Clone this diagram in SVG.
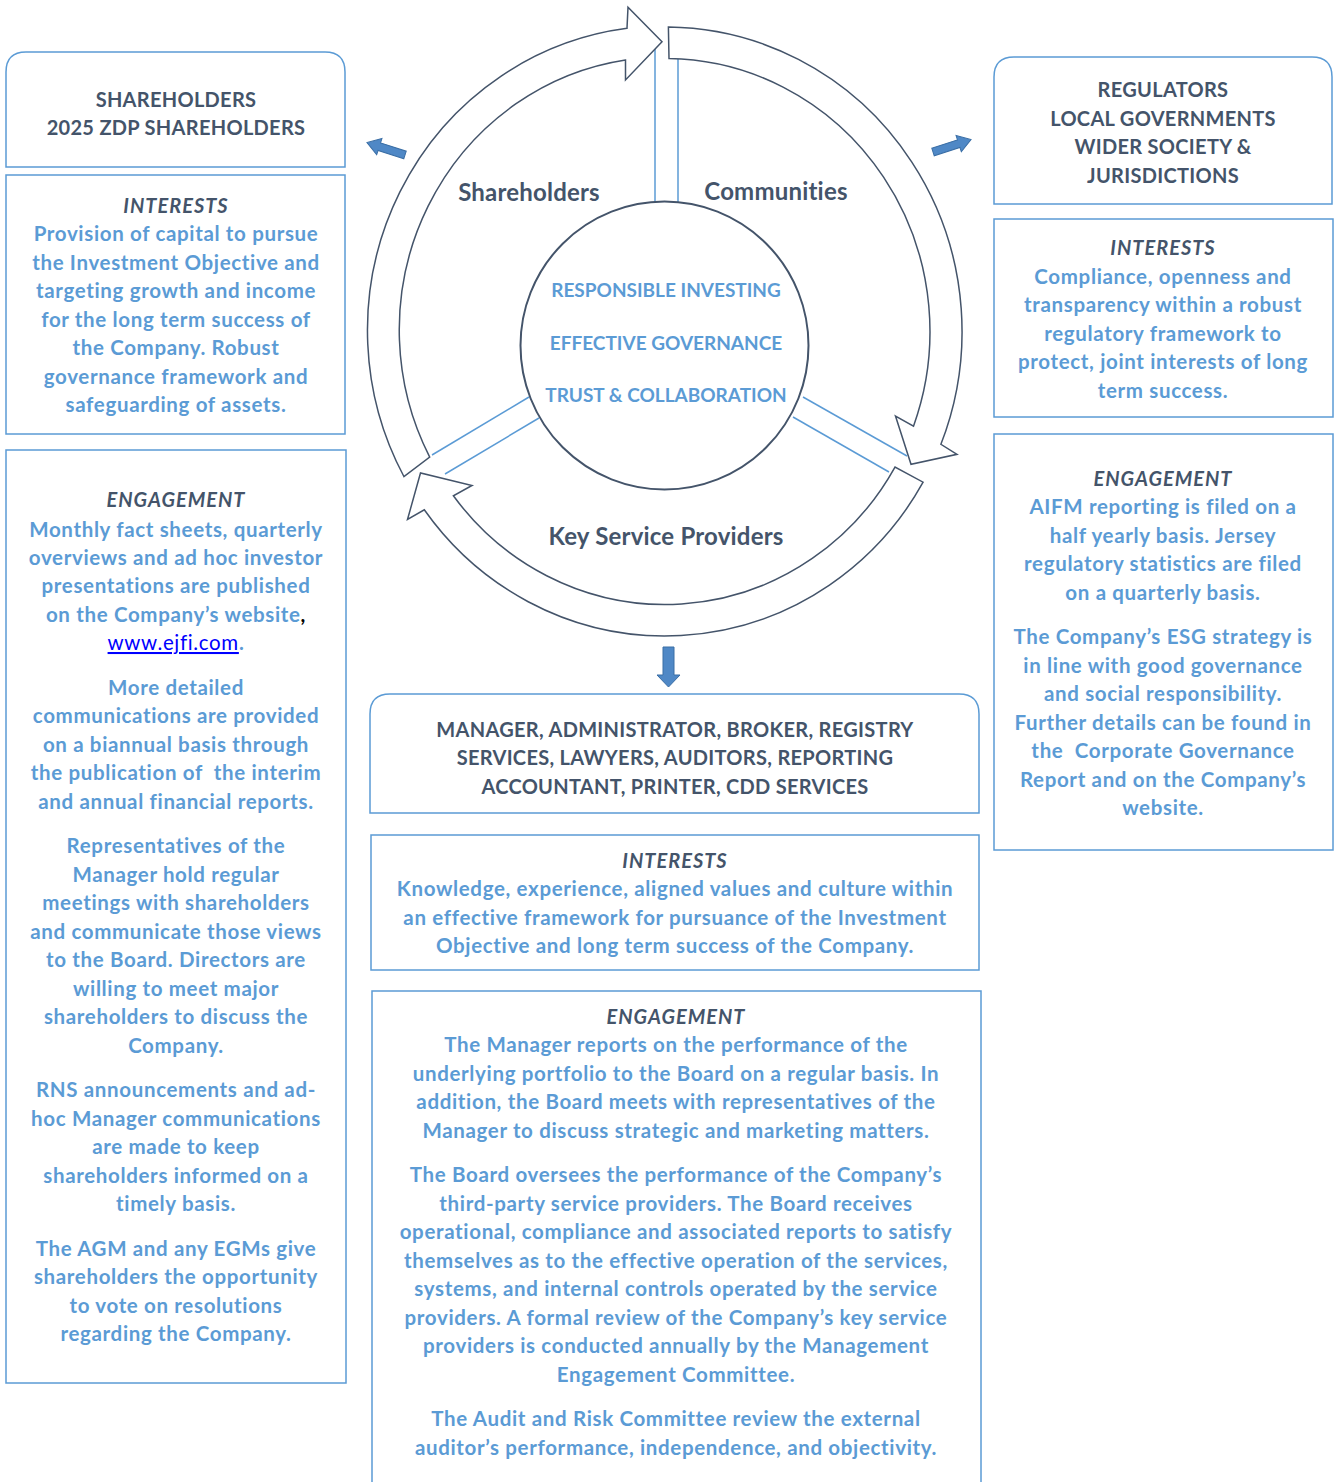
<svg xmlns="http://www.w3.org/2000/svg" width="1343" height="1482" viewBox="0 0 1343 1482">
<style>
text{font-family:Lato,"Liberation Sans",sans-serif;font-weight:700;text-anchor:middle;font-size:20px}
.h{fill:#44546A;letter-spacing:0.3px}
.b{fill:#5B9BD5;font-size:20.5px;letter-spacing:0.65px}
.i{font-style:italic;letter-spacing:1px}
.lbl{fill:#44546A;font-size:24px;letter-spacing:0.2px}
.ctr{fill:#5B9BD5;font-size:19px}
.box{fill:#fff;stroke:#5B9BD5;stroke-width:1.5}
.arc{fill:#fff;stroke:#44546A;stroke-width:1.5;stroke-linejoin:miter}
.spoke{stroke:#5B9BD5;stroke-width:1.5;fill:none}
.sa{fill:#4F88C6;stroke:#3A6EA5;stroke-width:1}
</style>
<defs>
<path id="sarrow" d="M0,-4 L27,-4 L27,-8.5 L40,0 L27,8.5 L27,4 L0,4 Z"/>
</defs>
<rect width="1343" height="1482" fill="#fff"/>

<g id="connectors">
<line class="spoke" x1="655" y1="42" x2="655" y2="206"/>
<line class="spoke" x1="678" y1="58" x2="678" y2="206"/>
<line class="spoke" x1="529" y1="397" x2="432" y2="455"/>
<line class="spoke" x1="539" y1="418" x2="445" y2="474"/>
<line class="spoke" x1="803" y1="397" x2="907" y2="456"/>
<line class="spoke" x1="793" y1="417" x2="889" y2="472"/>
<use href="#sarrow" class="sa" transform="translate(405,155) rotate(198)"/>
<use href="#sarrow" class="sa" transform="translate(933,152) rotate(-18)"/>
<path class="sa" d="M663,647 H674 V675 H680 L668.5,687 L657,675 H663 Z"/>
</g>

<g id="arrow-shareholders">
<path class="arc" d="M403.9,476.5 A297,304.5 0 0 1 627,28.3 L628,7.3 L662,41.7 L625.5,80 L625.5,60 A265,273 0 0 0 429.7,457.1 Z"/>
</g>
<g id="arrow-communities">
<path class="arc" d="M668.4,27 A297,304.5 0 0 1 940.9,444.3 L957,454.3 L911,464.3 L895.5,416 L913.5,426.2 A265,273 0 0 0 669,58.5 Z"/>
</g>
<g id="arrow-ksp">
<path class="arc" d="M923.1,482.2 A297,304.5 0 0 1 424.3,509.8 L407.5,519.5 L420.5,473 L472,485.5 L453.4,495.8 A265,273 0 0 0 895,467.1 Z"/>
</g>

<g id="core">
<circle cx="664.5" cy="345.5" r="144" fill="#fff" stroke="#44546A" stroke-width="2"/>
<text class="ctr" x="666" y="297">RESPONSIBLE INVESTING</text>
<text class="ctr" x="666" y="350">EFFECTIVE GOVERNANCE</text>
<text class="ctr" x="666" y="402">TRUST &amp; COLLABORATION</text>
</g>
<g id="label-shareholders"><text class="lbl" x="529" y="201">Shareholders</text></g>
<g id="label-communities"><text class="lbl" x="776" y="200">Communities</text></g>
<g id="label-ksp"><text class="lbl" x="666" y="545">Key Service Providers</text></g>

<g id="shareholders-header">
<path class="box" d="M6,167 V72 Q6,52 26,52 H325 Q345,52 345,72 V167 Z"/>
<text class="h" x="176" y="107">SHAREHOLDERS</text>
<text class="h" x="176" y="135">2025 ZDP SHAREHOLDERS</text>
</g>
<g id="shareholders-interests">
<rect class="box" x="6" y="175" width="339" height="259"/>
<text class="h i" x="176" y="213">INTERESTS</text>
<text class="b" x="176" y="241">Provision of capital to pursue</text>
<text class="b" x="176" y="270">the Investment Objective and</text>
<text class="b" x="176" y="298">targeting growth and income</text>
<text class="b" x="176" y="327">for the long term success of</text>
<text class="b" x="176" y="355">the Company. Robust</text>
<text class="b" x="176" y="384">governance framework and</text>
<text class="b" x="176" y="412">safeguarding of assets.</text>
</g>
<g id="shareholders-engagement">
<rect class="box" x="6" y="450" width="340" height="933"/>
<text class="h i" x="176" y="507">ENGAGEMENT</text>
<text class="b" x="176" y="537">Monthly fact sheets, quarterly</text>
<text class="b" x="176" y="565">overviews and ad hoc investor</text>
<text class="b" x="176" y="593">presentations are published</text>
<text class="b" x="176" y="622">on the Company’s website<tspan fill="#000">,</tspan></text>
<text class="b" x="176" y="650"><tspan fill="#0000FF" font-weight="400" text-decoration="underline">www.ejfi.com</tspan>.</text>
<text class="b" x="176" y="695">More detailed</text>
<text class="b" x="176" y="723">communications are provided</text>
<text class="b" x="176" y="752">on a biannual basis through</text>
<text class="b" x="176" y="780" xml:space="preserve">the publication of  the interim</text>
<text class="b" x="176" y="809">and annual financial reports.</text>
<text class="b" x="176" y="853">Representatives of the</text>
<text class="b" x="176" y="882">Manager hold regular</text>
<text class="b" x="176" y="910">meetings with shareholders</text>
<text class="b" x="176" y="939">and communicate those views</text>
<text class="b" x="176" y="967">to the Board. Directors are</text>
<text class="b" x="176" y="996">willing to meet major</text>
<text class="b" x="176" y="1024">shareholders to discuss the</text>
<text class="b" x="176" y="1053">Company.</text>
<text class="b" x="176" y="1097">RNS announcements and ad-</text>
<text class="b" x="176" y="1126">hoc Manager communications</text>
<text class="b" x="176" y="1154">are made to keep</text>
<text class="b" x="176" y="1183">shareholders informed on a</text>
<text class="b" x="176" y="1211">timely basis.</text>
<text class="b" x="176" y="1256">The AGM and any EGMs give</text>
<text class="b" x="176" y="1284">shareholders the opportunity</text>
<text class="b" x="176" y="1313">to vote on resolutions</text>
<text class="b" x="176" y="1341">regarding the Company.</text>
</g>

<g id="regulators-header">
<path class="box" d="M994,204 V77 Q994,57 1014,57 H1312 Q1332,57 1332,77 V204 Z"/>
<text class="h" x="1163" y="97">REGULATORS</text>
<text class="h" x="1163" y="126">LOCAL GOVERNMENTS</text>
<text class="h" x="1163" y="154">WIDER SOCIETY &amp;</text>
<text class="h" x="1163" y="183">JURISDICTIONS</text>
</g>
<g id="regulators-interests">
<rect class="box" x="994" y="219" width="339" height="198"/>
<text class="h i" x="1163" y="255">INTERESTS</text>
<text class="b" x="1163" y="284">Compliance, openness and</text>
<text class="b" x="1163" y="312">transparency within a robust</text>
<text class="b" x="1163" y="341">regulatory framework to</text>
<text class="b" x="1163" y="369">protect, joint interests of long</text>
<text class="b" x="1163" y="398">term success.</text>
</g>
<g id="regulators-engagement">
<rect class="box" x="994" y="434" width="339" height="416"/>
<text class="h i" x="1163" y="486">ENGAGEMENT</text>
<text class="b" x="1163" y="514">AIFM reporting is filed on a</text>
<text class="b" x="1163" y="543">half yearly basis. Jersey</text>
<text class="b" x="1163" y="571">regulatory statistics are filed</text>
<text class="b" x="1163" y="600">on a quarterly basis.</text>
<text class="b" x="1163" y="644">The Company’s ESG strategy is</text>
<text class="b" x="1163" y="673">in line with good governance</text>
<text class="b" x="1163" y="701">and social responsibility.</text>
<text class="b" x="1163" y="730">Further details can be found in</text>
<text class="b" x="1163" y="758" xml:space="preserve">the  Corporate Governance</text>
<text class="b" x="1163" y="787">Report and on the Company’s</text>
<text class="b" x="1163" y="815">website.</text>
</g>

<g id="providers-header">
<path class="box" d="M370,813 V714 Q370,694 390,694 H959 Q979,694 979,714 V813 Z"/>
<text class="h" x="675" y="737">MANAGER, ADMINISTRATOR, BROKER, REGISTRY</text>
<text class="h" x="675" y="765">SERVICES, LAWYERS, AUDITORS, REPORTING</text>
<text class="h" x="675" y="794">ACCOUNTANT, PRINTER, CDD SERVICES</text>
</g>
<g id="providers-interests">
<rect class="box" x="371" y="835" width="608" height="135"/>
<text class="h i" x="675" y="868">INTERESTS</text>
<text class="b" x="675" y="896">Knowledge, experience, aligned values and culture within</text>
<text class="b" x="675" y="925">an effective framework for pursuance of the Investment</text>
<text class="b" x="675" y="953">Objective and long term success of the Company.</text>
</g>
<g id="providers-engagement">
<rect class="box" x="372" y="991" width="609" height="500"/>
<text class="h i" x="676" y="1024">ENGAGEMENT</text>
<text class="b" x="676" y="1052">The Manager reports on the performance of the</text>
<text class="b" x="676" y="1081">underlying portfolio to the Board on a regular basis. In</text>
<text class="b" x="676" y="1109">addition, the Board meets with representatives of the</text>
<text class="b" x="676" y="1138">Manager to discuss strategic and marketing matters.</text>
<text class="b" x="676" y="1182">The Board oversees the performance of the Company’s</text>
<text class="b" x="676" y="1211">third-party service providers. The Board receives</text>
<text class="b" x="676" y="1239">operational, compliance and associated reports to satisfy</text>
<text class="b" x="676" y="1268">themselves as to the effective operation of the services,</text>
<text class="b" x="676" y="1296">systems, and internal controls operated by the service</text>
<text class="b" x="676" y="1325">providers. A formal review of the Company’s key service</text>
<text class="b" x="676" y="1353">providers is conducted annually by the Management</text>
<text class="b" x="676" y="1382">Engagement Committee.</text>
<text class="b" x="676" y="1426">The Audit and Risk Committee review the external</text>
<text class="b" x="676" y="1455">auditor’s performance, independence, and objectivity.</text>
</g>
</svg>
